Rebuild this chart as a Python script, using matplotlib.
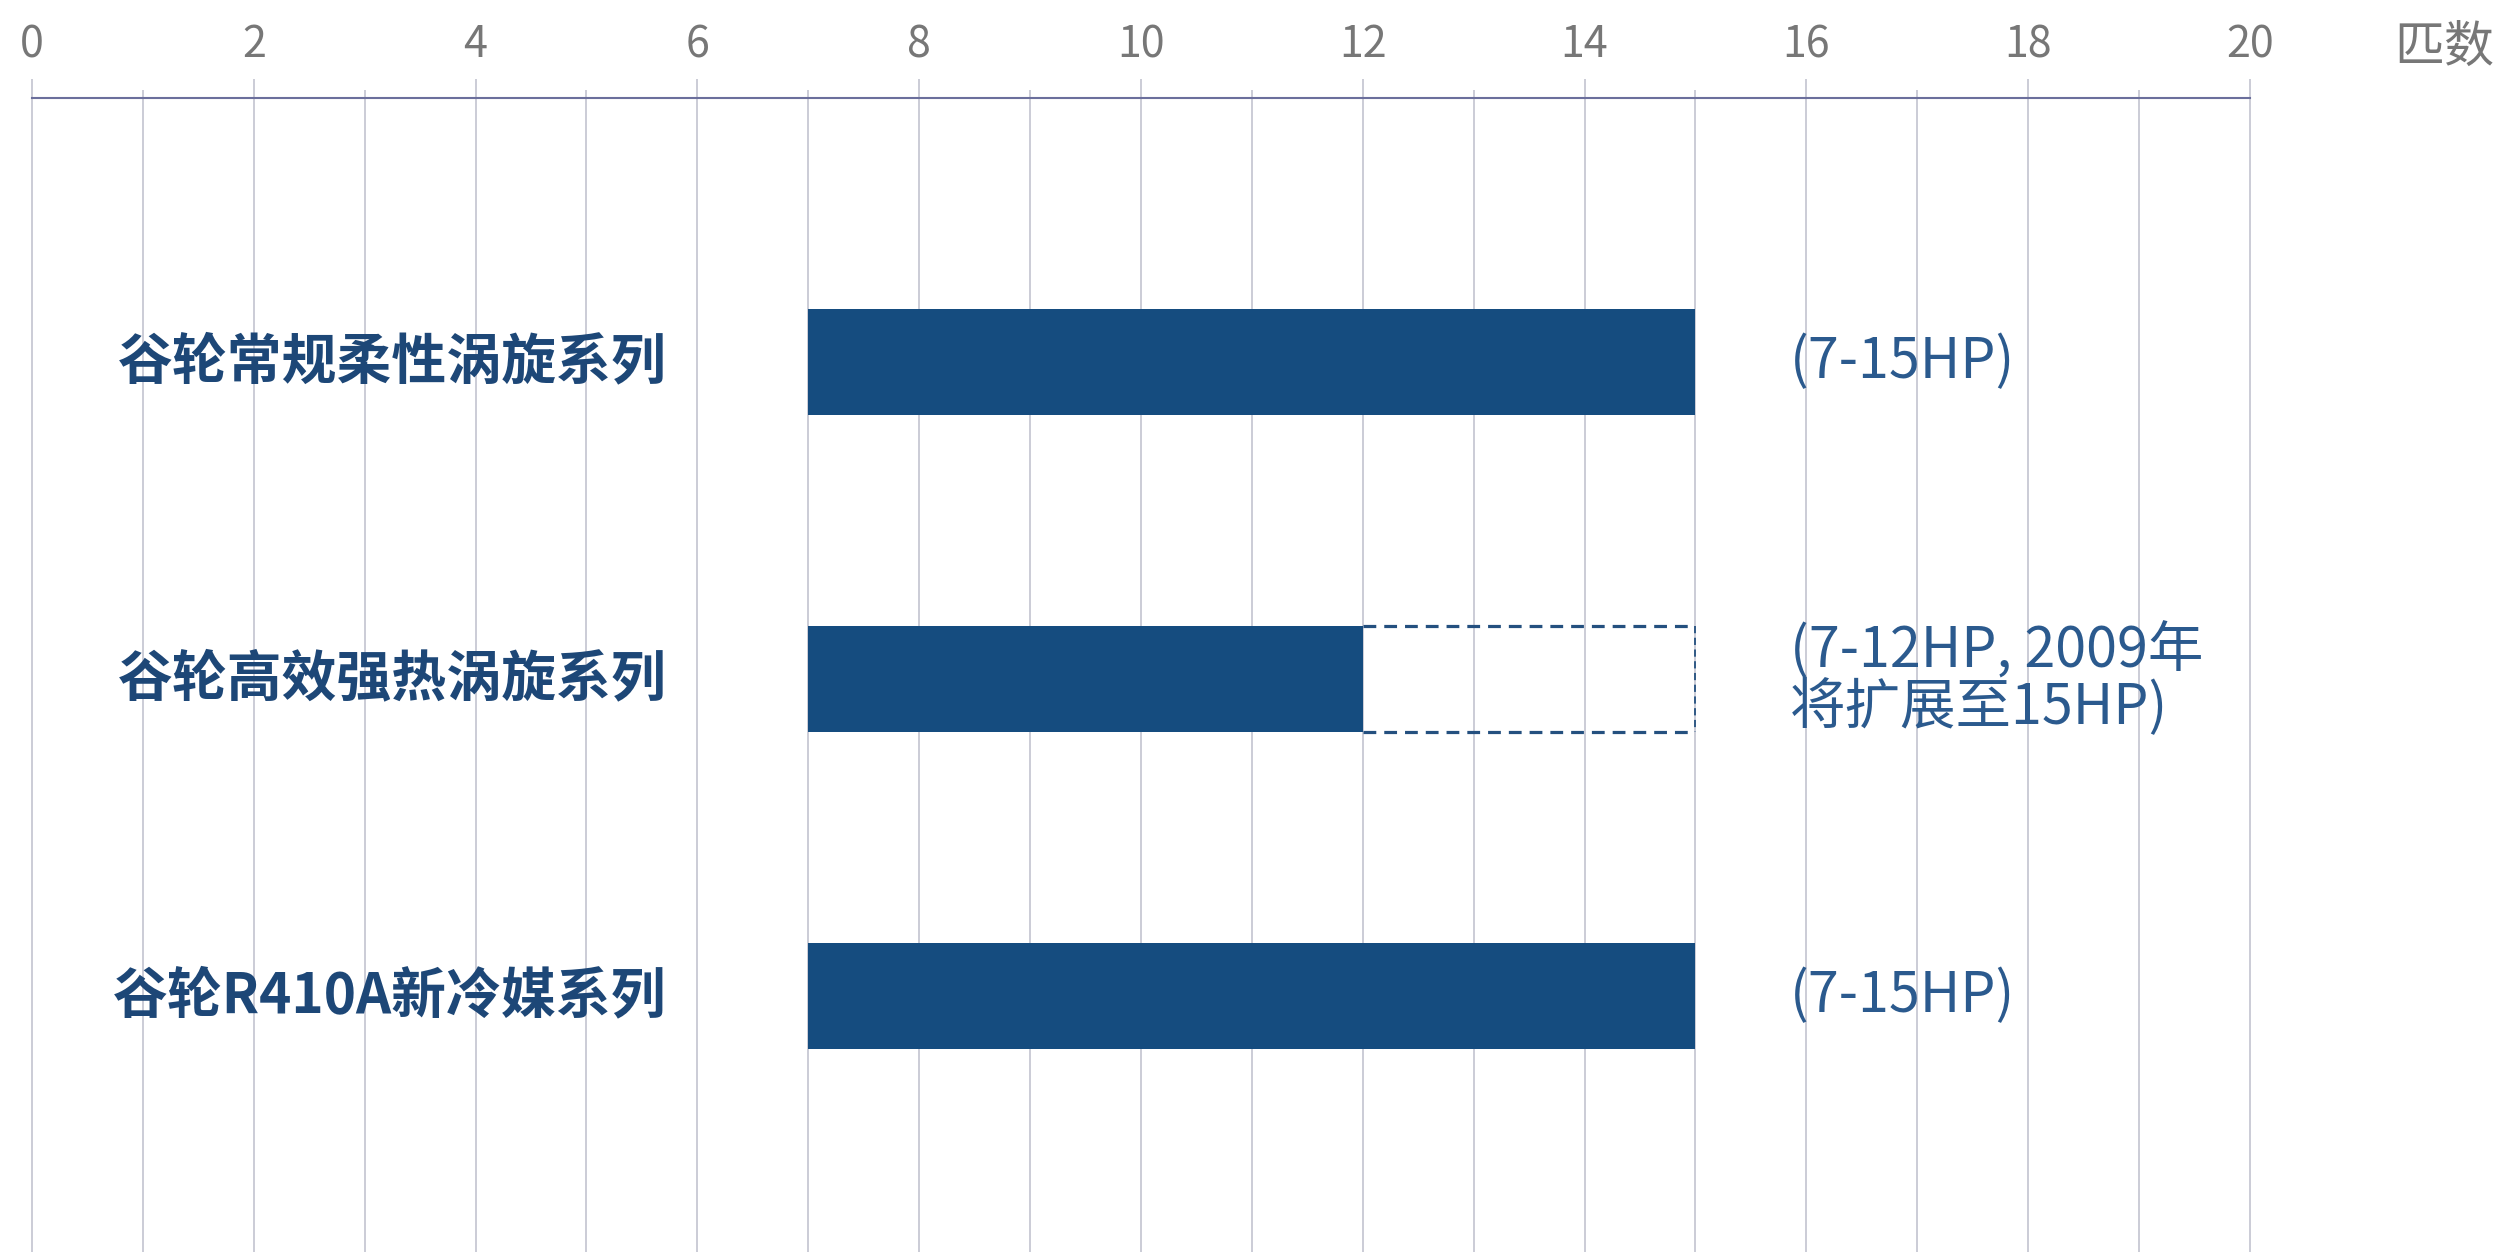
import numpy as np
import matplotlib.pyplot as plt

plt.rcParams['font.family'] = ['Noto Sans CJK SC', 'DejaVu Sans']

# data
series = ['谷轮常规柔性涡旋系列', '谷轮高效强热涡旋系列', '谷轮R410A新冷媒系列']
hp_start = [7, 7, 7]
hp_now = [15, 12, 15]
hp_planned = [15, 15, 15]
notes = ['(7-15HP)', '(7-12HP, 2009年\n将扩展至15HP)', '(7-15HP)']
major_ticks = np.arange(0, 21, 2)
minor_ticks = np.arange(1, 20, 2)
unit_label = '匹数'

bar_color = '#154c7f'
label_color = '#1d4777'
note_color = '#2b5a8e'
grid_color = '#bdbfcb'
axis_color = '#6b6f9c'
tick_color = '#777777'

W, H = 2511, 1252
fig = plt.figure(figsize=(W / 100, H / 100), dpi=100)
ax = fig.add_axes([32 / W, 0, (2250 - 32) / W, 1 - 98 / H])

y = np.arange(len(series))
bar_h = 0.334

ax.barh(y, np.array(hp_now) - np.array(hp_start), left=hp_start,
        height=bar_h, color=bar_color, zorder=3)

# planned extension drawn as a dashed outline
dash = (0, (4, 2.5))
for yi, now, plan in zip(y, hp_now, hp_planned):
    if plan > now:
        top = yi - bar_h / 2
        bot = yi + bar_h / 2
        ax.plot([now, plan], [top, top], ls=dash, lw=2.3, color='#24507f', zorder=4)
        ax.plot([now, plan], [bot, bot], ls=dash, lw=2.3, color='#24507f', zorder=4)
        ax.plot([plan, plan], [top, bot], ls=dash, lw=1.3, color='#24507f', zorder=4)

for yi, name in zip(y, series):
    ax.text(5.72, yi, name, ha='right', va='center', fontsize=39.5,
            color=label_color, fontweight='bold')

for yi, note in zip(y, notes):
    ax.text(15.85, yi, note, ha='left', va='center', fontsize=40,
            color=note_color, linespacing=0.95)

ax.set_xlim(0, 20)
ax.set_ylim(2 + 256 / 317, -264 / 317)

ax.xaxis.tick_top()
ax.set_xticks(major_ticks)
ax.set_xticks(minor_ticks, minor=True)
ax.tick_params(axis='x', which='major', length=14, width=1.1, color=grid_color,
               labelsize=31, labelcolor=tick_color, pad=8)
ax.tick_params(axis='x', which='minor', length=6, width=1.1, color=grid_color)
ax.set_yticks([])
ax.grid(axis='x', which='both', color=grid_color, lw=1.1, zorder=0)
for line in ax.get_xgridlines():
    line.set_clip_on(False)

for side in ['left', 'right', 'bottom']:
    ax.spines[side].set_visible(False)
ax.spines['top'].set_color(axis_color)
ax.spines['top'].set_linewidth(1.5)

ax.text(21.3, 1 + 50 / (H - 98), unit_label, transform=ax.get_xaxis_transform(),
        ha='left', va='center', fontsize=36, color=tick_color)

fig.savefig('out.png', dpi=100)
